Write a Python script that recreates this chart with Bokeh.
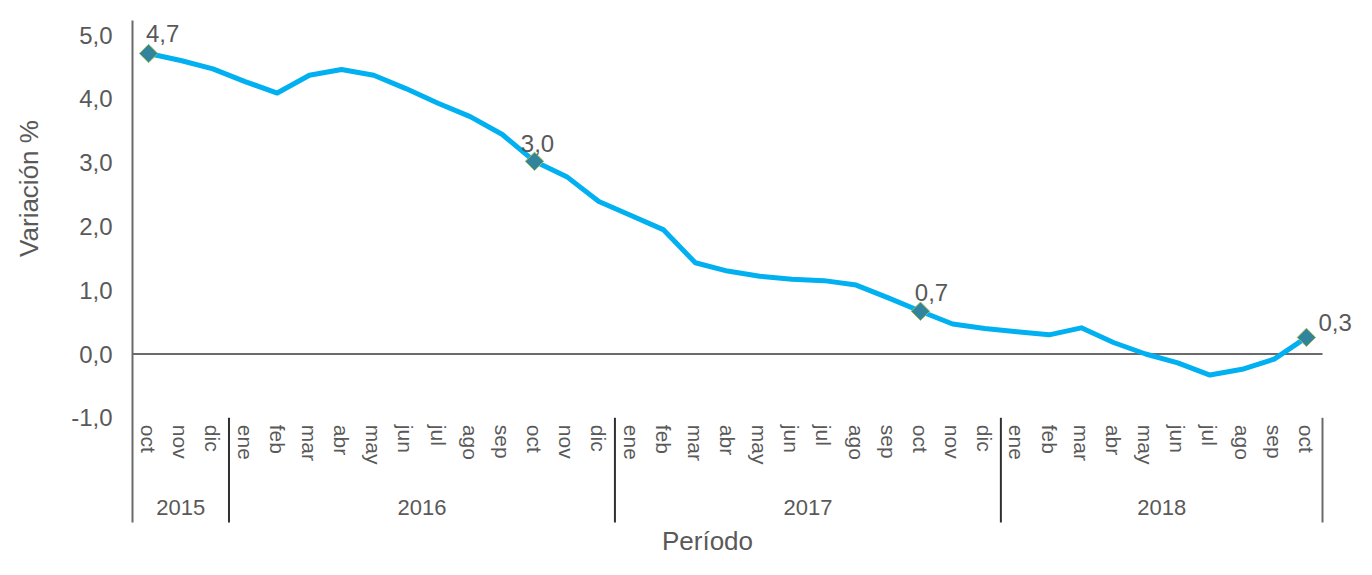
import math
from bokeh.plotting import figure
from bokeh.models import (Range1d, ColumnDataSource, Label, FixedTicker,
                          CustomJSTickFormatter, LinearAxis)
from bokeh.embed import file_html
from bokeh.resources import INLINE

# ---------------- data ----------------
year_labels = ["2015", "2016", "2017", "2018"]
months_2015 = ["oct", "nov", "dic"]
months_2016 = ["ene", "feb", "mar", "abr", "may", "jun", "jul", "ago", "sep", "oct", "nov", "dic"]
months_2017 = ["ene", "feb", "mar", "abr", "may", "jun", "jul", "ago", "sep", "oct", "nov", "dic"]
months_2018 = ["ene", "feb", "mar", "abr", "may", "jun", "jul", "ago", "sep", "oct"]
months_by_year = [months_2015, months_2016, months_2017, months_2018]

variacion = [4.71, 4.60, 4.47,
             4.27, 4.09, 4.37, 4.46, 4.37, 4.16, 3.93, 3.72, 3.44, 3.02, 2.78, 2.39,
             2.17, 1.95, 1.43, 1.30, 1.22, 1.17, 1.15, 1.08, 0.88, 0.67, 0.47, 0.40,
             0.35, 0.30, 0.41, 0.18, 0.00, -0.14, -0.33, -0.24, -0.08, 0.26]
y_ticks = [-1, 0, 1, 2, 3, 4, 5]
labelled_month = "oct"

# ---------------- build ----------------
month_list = [m for ms in months_by_year for m in ms]
n = len(month_list)
xs = [i + 0.5 for i in range(n)]
src = ColumnDataSource(dict(x=xs, y=variacion))
mk_idx = [i for i, m in enumerate(month_list) if m == labelled_month]
mk_src = ColumnDataSource(dict(x=[xs[i] for i in mk_idx], y=[variacion[i] for i in mk_idx]))

GREY = "#595959"
FONT = "Liberation Sans"

W, H = 1356, 559
PX_X = 1190 / n          # pixels per month
X0_PX = 132              # pixel of x = 0
PX_Y = 63.8              # pixels per unit
Y0_PX = 353.5            # pixel of y = 0
Y_BOTTOM = -(522 - Y0_PX) / PX_Y
Y_TOP = (Y0_PX - 20) / PX_Y

p = figure(x_range=Range1d(-X0_PX / PX_X, (W - X0_PX) / PX_X),
           y_range=Range1d(-(H - Y0_PX) / PX_Y, Y0_PX / PX_Y),
           width=W, height=H, output_backend="svg", toolbar_location=None,
           x_axis_location=None, y_axis_location=None,
           min_border=0, min_border_left=0, min_border_right=0,
           min_border_top=0, min_border_bottom=0)
p.outline_line_color = None
p.grid.visible = False
p.background_fill_color = "white"
p.border_fill_color = "white"

# y axis (drawn at x = 0)
ya = LinearAxis(fixed_location=0, bounds=(Y_BOTTOM, Y_TOP))
ya.ticker = FixedTicker(ticks=y_ticks)
ya.formatter = CustomJSTickFormatter(code="return tick.toFixed(1).replace('.', ',');")
ya.major_tick_line_color = None
ya.minor_tick_line_color = None
ya.major_tick_out = 0
ya.major_tick_in = 0
ya.major_label_standoff = 20
ya.major_label_text_font = FONT
ya.major_label_text_font_size = "24px"
ya.major_label_text_color = GREY
ya.axis_line_color = "#6a6a6a"
ya.axis_line_width = 2
p.add_layout(ya, "left")

# month axis drawn at y = -1
xa = LinearAxis(fixed_location=y_ticks[0], bounds=(0, n))
xa.ticker = FixedTicker(ticks=xs)
xa.formatter = CustomJSTickFormatter(args=dict(labels=month_list),
                                     code="return labels[Math.round(tick - 0.5)];")
xa.axis_line_color = None
xa.major_tick_line_color = None
xa.minor_tick_line_color = None
xa.major_tick_out = 0
xa.major_tick_in = 0
xa.major_label_orientation = "vertical"
xa.major_label_standoff = 7
xa.major_label_text_font = FONT
xa.major_label_text_font_size = "21px"
xa.major_label_text_color = GREY
p.add_layout(xa, "below")

# zero line
p.segment(x0=[0], y0=[0], x1=[n], y1=[0], line_color="#3a3a3a", line_width=1.3)

# year separators and year labels
bounds = []
acc = 0
for ms in months_by_year:
    start = acc
    acc += len(ms)
    bounds.append(acc)
    p.add_layout(Label(x=(start + acc) / 2, y=-(507 - Y0_PX) / PX_Y, text=year_labels[len(bounds) - 1],
                       text_font=FONT, text_font_size="22px", text_color=GREY,
                       text_align="center", text_baseline="middle"))
p.segment(x0=bounds[:-1], y0=[y_ticks[0]] * (len(bounds) - 1), x1=bounds[:-1],
          y1=[Y_BOTTOM] * (len(bounds) - 1), line_color="#303030", line_width=2)
p.segment(x0=[n], y0=[y_ticks[0]], x1=[n], y1=[Y_BOTTOM], line_color="#6a6a6a", line_width=2)

# series
p.line(x="x", y="y", source=src, line_color="#00B0F0", line_width=5,
       line_join="round", line_cap="round")
p.scatter(x="x", y="y", source=mk_src, marker="square", angle=math.pi / 4, size=13,
          fill_color="#31849B", line_color="#9BBB59", line_width=1)

# data labels
offsets = [(14, 20, "center", "alphabetic"), (3, 18, "center", "alphabetic"),
           (11, 19, "center", "alphabetic"), (12, 15, "left", "middle")]
for k, i in enumerate(mk_idx):
    dx, dy, al, bl = offsets[k]
    p.add_layout(Label(x=xs[i], y=variacion[i], x_offset=dx, y_offset=dy,
                       text=f"{variacion[i]:.1f}".replace(".", ","),
                       text_font=FONT, text_font_size="24px", text_color=GREY,
                       text_align=al, text_baseline=bl))

# axis titles
p.add_layout(Label(x=(28 - X0_PX) / PX_X, y=(Y0_PX - 188) / PX_Y, text="Variación %",
                   angle=math.pi / 2, text_font=FONT, text_font_size="26px", text_color=GREY,
                   text_align="center", text_baseline="middle"))
p.add_layout(Label(x=(707 - X0_PX) / PX_X, y=-(540 - Y0_PX) / PX_Y, text="Período",
                   text_font=FONT, text_font_size="26px", text_color=GREY,
                   text_align="center", text_baseline="middle"))

open("out.html", "w").write(file_html(p, INLINE))
